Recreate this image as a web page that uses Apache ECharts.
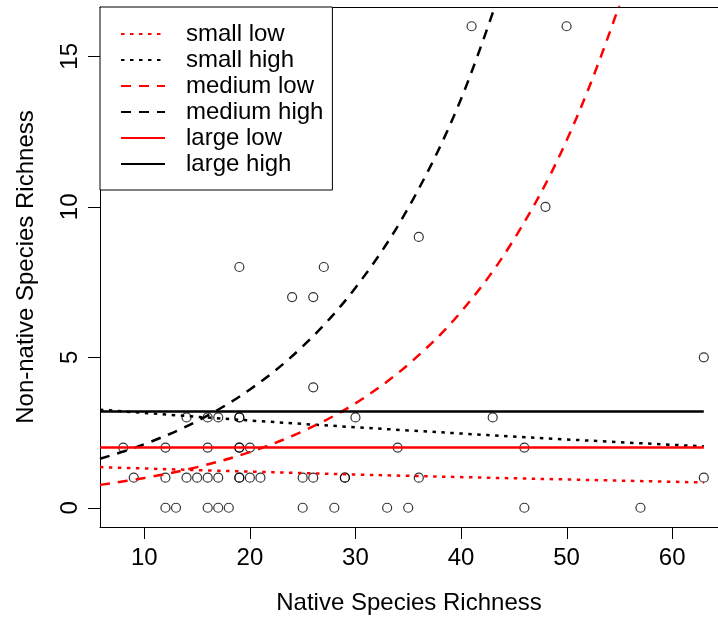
<!DOCTYPE html>
<html>
<head>
<meta charset="utf-8">
<script src="https://cdn.jsdelivr.net/npm/echarts@6/dist/echarts.min.js"></script>
<style>
  html, body { margin: 0; padding: 0; background: #fff; }
  #chart { width: 718px; height: 623px; }
</style>
</head>
<body>
<div id="chart"></div>
<script>
// ---- data ----
const xTicks = [10, 20, 30, 40, 50, 60];
const yTicks = [0, 5, 10, 15];

// observed points (native richness, non-native richness)
const obsX = [12, 13, 16, 17, 18, 25, 28, 33, 35, 46, 57,
              9, 12, 14, 15, 16, 17, 19, 19, 20, 21, 25, 26, 29, 29, 36, 63,
              8, 12, 16, 19, 19, 20, 34, 46,
              14, 16, 17, 19, 19, 30, 43,
              26, 63, 24, 26, 19, 27, 36, 48, 41, 50];
const obsY = [0, 0, 0, 0, 0, 0, 0, 0, 0, 0, 0,
              1, 1, 1, 1, 1, 1, 1, 1, 1, 1, 1, 1, 1, 1, 1, 1,
              2, 2, 2, 2, 2, 2, 2, 2,
              3, 3, 3, 3, 3, 3, 3,
              4, 5, 7, 7, 8, 8, 9, 10, 16, 16];

// fitted curves
const smallLowX = [5.8, 20, 35, 50, 63];
const smallLowY = [1.35, 1.20, 1.06, 0.94, 0.84];
const smallHighX = [5.8, 20, 35, 50, 63];
const smallHighY = [3.26, 2.90, 2.57, 2.27, 2.04];
const mediumLowX = [5.8, 10, 15, 20, 25, 30, 35, 40, 45, 50, 55, 58];
const mediumLowY = [0.76, 0.99, 1.35, 1.85, 2.54, 3.47, 4.76, 6.51, 8.91, 12.20, 16.70, 20.2];
const mediumHighX = [5.8, 10, 15, 20, 25, 30, 35, 40, 45];
const mediumHighY = [1.63, 2.11, 2.88, 3.93, 5.36, 7.31, 9.96, 13.58, 18.52];
const largeLowX = [5.8, 63];
const largeLowY = [2.0, 2.0];
const largeHighX = [5.8, 63];
const largeHighY = [3.2, 3.2];

const seriesNames = ['small low', 'small high', 'medium low', 'medium high', 'large low', 'large high'];

// ---- build chart ----
const FONT = '"Liberation Sans", Arial, Helvetica, sans-serif';
const zip = (xs, ys) => xs.map((x, i) => [x, ys[i]]);
const DOT = [3.5, 5.5];
const DASH = [10, 8];
const X_MIN = 5.8, X_MAX = 64.345;   // visible part of the plot region (box continues past the right edge)
const Y_MIN = -0.64, Y_MAX = 16.64;
const TICK_LEN = 12;

function curve(name, xs, ys, color, type) {
  return {
    name: name, type: 'line', data: zip(xs, ys), smooth: xs.length > 2 ? 0.35 : false,
    symbol: 'none', clip: true, z: 3,
    lineStyle: { color: color, width: 2.5, type: type },
    itemStyle: { color: color }
  };
}

const chart = echarts.init(document.getElementById('chart'), null, { renderer: 'canvas' });
chart.setOption({
  animation: false,
  backgroundColor: '#fff',
  textStyle: { fontFamily: FONT },
  grid: { left: 100, top: 7, right: 0, bottom: 96, show: false },
  xAxis: [{
    type: 'value', min: X_MIN, max: X_MAX, position: 'bottom',
    name: 'Native Species Richness', nameLocation: 'middle', nameGap: 64,
    nameTextStyle: { fontSize: 24, color: '#000', fontFamily: FONT },
    axisLine: { show: true, onZero: false, lineStyle: { color: '#000', width: 1 } },
    splitLine: { show: false },
    axisTick: { show: false },
    axisLabel: { customValues: xTicks, fontSize: 24, color: '#000', margin: 19, fontFamily: FONT }
  }, {
    type: 'value', min: X_MIN, max: X_MAX, position: 'top',
    axisLine: { show: true, onZero: false, lineStyle: { color: '#000', width: 1 } },
    splitLine: { show: false }, axisTick: { show: false }, axisLabel: { show: false }
  }],
  yAxis: {
    type: 'value', min: Y_MIN, max: Y_MAX,
    name: 'Non-native Species Richness', nameLocation: 'middle', nameGap: 62, nameRotate: 90,
    nameTextStyle: { fontSize: 24, color: '#000', fontFamily: FONT },
    axisLine: { show: true, onZero: false, lineStyle: { color: '#000', width: 1 } },
    splitLine: { show: false },
    axisTick: { show: false },
    axisLabel: { customValues: yTicks, fontSize: 24, color: '#000', margin: 18, rotate: 90, fontFamily: FONT }
  },
  legend: {
    data: seriesNames,
    orient: 'vertical',
    left: 100, top: 7,
    padding: [14, 9, 13, 20],
    itemGap: 0,
    itemWidth: 44, itemHeight: 26,
    borderColor: '#000', borderWidth: 1, backgroundColor: '#fff',
    itemStyle: { opacity: 0 },
    textStyle: { fontSize: 24, color: '#000', fontFamily: FONT, lineHeight: 26, padding: [0, 0, 0, 16] },
    selectedMode: false
  },
  series: [
    {
      type: 'scatter', data: zip(obsX, obsY), symbol: 'circle', symbolSize: 9, z: 2,
      itemStyle: { color: 'rgba(0,0,0,0)', borderColor: '#000', borderWidth: 1.2 }
    },
    curve('small low', smallLowX, smallLowY, '#ff0000', DOT),
    curve('small high', smallHighX, smallHighY, '#000000', DOT),
    curve('medium low', mediumLowX, mediumLowY, '#ff0000', DASH),
    curve('medium high', mediumHighX, mediumHighY, '#000000', DASH),
    curve('large low', largeLowX, largeLowY, '#ff0000', 'solid'),
    curve('large high', largeHighX, largeHighY, '#000000', 'solid')
  ]
});

// outward axis ticks, positioned through the axes' own scales
const left = chart.convertToPixel({ xAxisIndex: 0 }, X_MIN);
const bottom = chart.convertToPixel({ yAxisIndex: 0 }, Y_MIN);
const crisp = v => Math.round(v) + 0.5;
const tickEls = [];
xTicks.forEach(v => {
  const px = crisp(chart.convertToPixel({ xAxisIndex: 0 }, v));
  tickEls.push({ type: 'line', silent: true, z: 10,
    shape: { x1: px, y1: Math.round(bottom), x2: px, y2: Math.round(bottom) + TICK_LEN },
    style: { stroke: '#000', lineWidth: 1 } });
});
yTicks.forEach(v => {
  const py = crisp(chart.convertToPixel({ yAxisIndex: 0 }, v));
  tickEls.push({ type: 'line', silent: true, z: 10,
    shape: { x1: Math.round(left) - TICK_LEN, y1: py, x2: Math.round(left), y2: py },
    style: { stroke: '#000', lineWidth: 1 } });
});
chart.setOption({ graphic: { elements: tickEls } });
</script>
</body>
</html>
